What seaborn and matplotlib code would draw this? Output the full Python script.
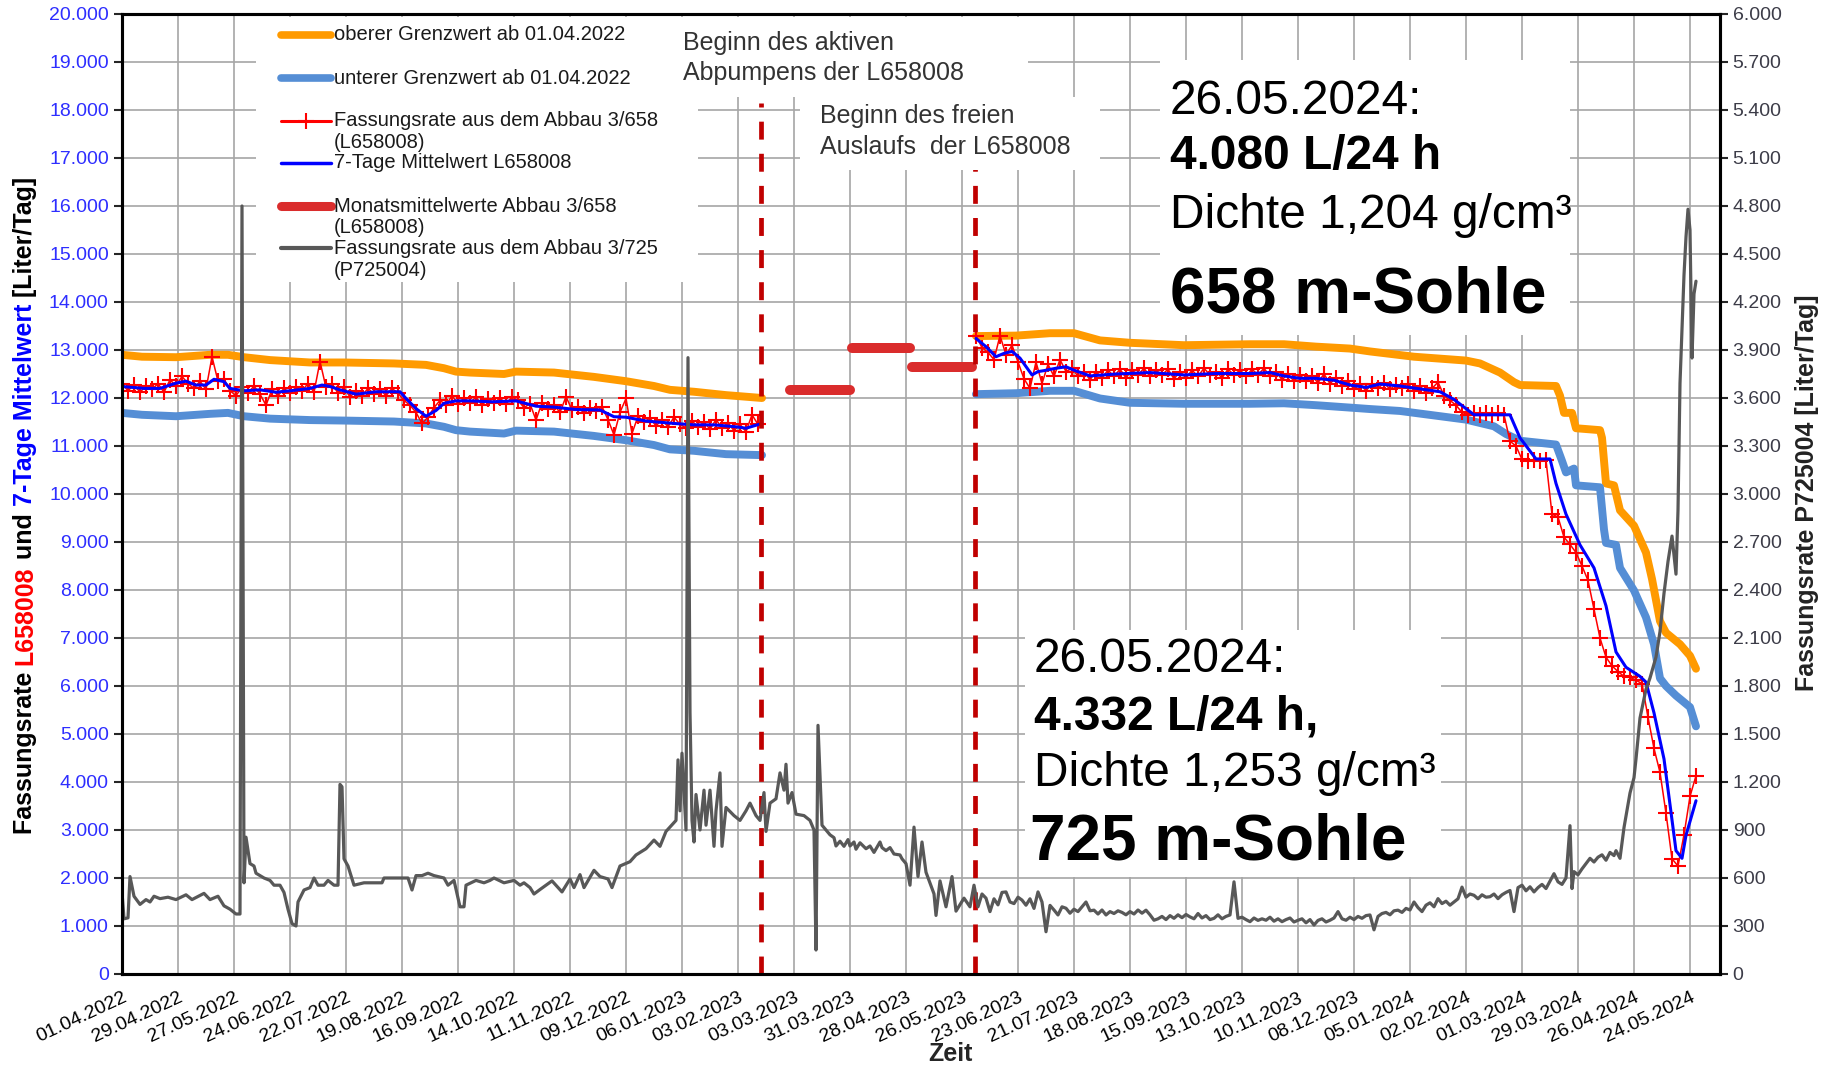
import matplotlib
matplotlib.use("Agg")
import matplotlib.pyplot as plt
from matplotlib.patches import Rectangle
from matplotlib.lines import Line2D
import pandas as pd
import seaborn as sns

START = pd.Timestamp("2022-04-01")

red_start_1 = "2022-04-01"
red_vals_1 = [12300, 12150, 12280, 12120, 12250, 12180, 12300, 12120, 12380, 12250,
              12450, 12300, 12200, 12350, 12180, 12860, 12350, 12400, 12150, 12050,
              12220, 12100, 12250, 12080, 11850, 12180, 12050, 12200, 12100, 12220,
              12150, 12300, 12120, 12760, 12220, 12300, 12100, 12220, 12020, 12150,
              12050, 12200, 12080, 12180, 12050, 12200, 12100, 11950, 11850, 11700,
              11470, 11600, 11800, 11950, 11850, 12050, 11880, 12000, 11900, 12020,
              11850, 11980, 11900, 12000, 11880, 12020, 11950, 11800, 11880, 11540,
              11900, 11780, 11850, 11700, 12030, 11750, 11820, 11680, 11800, 11720,
              11820, 11550, 11230, 11700, 11990, 11260, 11620, 11500, 11580, 11420,
              11550, 11400, 11600, 11450, 11380, 11520, 11400, 11500, 11350, 11550,
              11380, 11480, 11320, 11450, 11300, 11650, 11450]
red_start_2 = "2023-06-02"
red_vals_2 = [13300, 13050, 12950, 12800, 13300, 12900, 13100, 12750, 12400, 12200,
              12750, 12300, 12700, 12450, 12800, 12550, 12620, 12450, 12550, 12380,
              12550, 12420, 12580, 12450, 12600, 12420, 12580, 12480, 12620, 12450,
              12580, 12480, 12600, 12400, 12550, 12420, 12580, 12450, 12620, 12480,
              12550, 12420, 12600, 12480, 12580, 12450, 12600, 12480, 12620, 12450,
              12550, 12380, 12500, 12350, 12480, 12350, 12450, 12320, 12500, 12300,
              12420, 12250, 12350, 12180, 12300, 12150, 12300, 12200, 12320, 12180,
              12280, 12200, 12300, 12150, 12250, 12100, 12200, 12330, 12050, 11950,
              11850, 11700, 11650, 11680, 11650, 11680, 11650, 11680, 11650, 11100,
              11000, 10720, 10680, 10700, 10680, 10700, 9580, 9520, 9100, 8950,
              8780, 8500, 8200, 7600, 7000, 6600, 6420, 6300, 6200, 6180,
              6120, 6050, 5350, 4700, 4200, 3350, 2400, 2250, 2900, 3700,
              4130]

# 7-Tage Mittelwert L658008 (Tage seit 01.04.2022)
mean7_days_1 = [0, 11, 19, 27, 32, 37, 42, 46, 51, 54, 61, 69, 77, 84, 94, 100, 104, 109, 117, 127,
                139, 142, 147, 152, 157, 161, 167, 174, 185, 197, 207, 216, 227, 239, 246, 252, 262,
                276, 286, 296, 307, 312, 316, 320]
mean7_vals_1 = [12240, 12200, 12200, 12310, 12350, 12270, 12270, 12390, 12340, 12200, 12150, 12170,
                12120, 12150, 12200, 12270, 12240, 12170, 12080, 12130, 12130, 11990, 11780, 11620,
                11740, 11890, 11940, 11940, 11920, 11940, 11830, 11810, 11760, 11750, 11610, 11600,
                11520, 11470, 11440, 11440, 11400, 11370, 11420, 11470]
mean7_days_2 = [427, 432, 437, 441, 445, 449, 455, 458, 461, 467, 472, 476, 484, 497, 514, 531, 547,
                564, 574, 581, 589, 597, 606, 614, 622, 629, 639, 649, 659, 666, 671, 676, 694, 699,
                707, 714, 717, 722, 729, 736, 742, 747, 752, 759, 762, 766, 771, 774, 777, 780, 782, 787]
mean7_vals_2 = [13240, 13070, 12860, 12930, 12970, 12830, 12480, 12550, 12570, 12620, 12650, 12580,
                12460, 12500, 12530, 12480, 12510, 12510, 12530, 12460, 12410, 12410, 12370, 12270,
                12220, 12290, 12250, 12190, 12130, 11970, 11810, 11650, 11650, 11170, 10730, 10730,
                10220, 9580, 8940, 8460, 7670, 6710, 6390, 6200, 6080, 5440, 4480, 3530, 2570, 2410,
                2890, 3610]

# Grenzwerte ab 01.04.2022
upper_days_1 = [0, 10, 27, 44, 53, 61, 74, 94, 111, 136, 152, 161, 167, 174, 191, 197, 216, 236,
                252, 266, 274, 286, 302, 320]
upper_vals_1 = [12900, 12860, 12850, 12900, 12900, 12850, 12790, 12740, 12740, 12720, 12690, 12620,
                12550, 12530, 12500, 12550, 12530, 12440, 12350, 12250, 12170, 12130, 12060, 12000]
lower_vals_1 = [11690, 11650, 11620, 11670, 11690, 11620, 11570, 11540, 11530, 11510, 11470, 11400,
                11330, 11300, 11260, 11320, 11300, 11210, 11120, 11020, 10930, 10900, 10830, 10810]
upper_days_2 = [427, 447, 464, 476, 489, 504, 531, 564, 581, 597, 614, 624, 646, 672, 679, 689, 696,
                699, 717, 719, 721, 725, 727, 739, 740, 742, 746, 749, 756, 762, 765, 769, 772, 779,
                784, 787]
upper_vals_2 = [13290, 13300, 13350, 13350, 13200, 13150, 13100, 13120, 13120, 13070, 13030, 12970,
                12860, 12780, 12720, 12530, 12330, 12270, 12250, 12050, 11690, 11690, 11370, 11330,
                11170, 10220, 10180, 9660, 9340, 8780, 8230, 7350, 7110, 6870, 6630, 6360]
lower_days_2 = [427, 447, 464, 476, 489, 504, 531, 564, 581, 597, 614, 624, 639, 672, 686, 692, 699,
                717, 720, 722, 726, 727, 739, 741, 742, 747, 749, 756, 762, 766, 769, 772, 777, 784, 787]
lower_vals_2 = [12080, 12100, 12150, 12150, 11990, 11900, 11880, 11880, 11890, 11850, 11800, 11770,
                11730, 11550, 11410, 11250, 11110, 11030, 10690, 10450, 10530, 10180, 10140, 9260,
                8980, 8940, 8460, 7990, 7430, 6870, 6160, 6000, 5800, 5560, 5160]

# Monatsmittelwerte Abbau 3/658
month_labels = ["2023-03", "2023-04", "2023-05"]
month_means = [12160, 13050, 12640]

# Fassungsrate P725004 (Liter/Tag, rechte Achse)
p725_days_a = [0, 1, 3, 4, 6, 9, 12, 14, 16, 19, 23, 27, 32, 35, 41, 44, 48, 51, 54, 57, 59, 60, 61, 62,
               64, 66, 67, 71, 74, 76, 79, 81, 83, 85, 87, 88, 91, 94, 96, 98, 101, 103, 106, 108, 109,
               110, 111, 113, 116, 121, 126, 130, 131, 139, 143, 145, 147, 150, 153, 156, 161, 163, 166,
               169, 171, 172, 177, 181, 184, 186, 191, 196, 199, 201, 204, 206, 209, 212, 215, 220, 224,
               226, 229, 231, 236, 239, 243, 245, 249, 254, 257, 262, 266, 269, 272, 277, 278, 279, 280,
               282, 283, 284, 285, 286, 287, 289, 291, 292, 294, 296, 297, 299, 300, 302, 306, 309, 312,
               314, 317, 319, 321, 322, 324, 327, 329, 331, 332, 333, 335, 337, 341, 344, 346, 347, 348,
               350, 352, 354, 356, 357, 359, 361, 363, 364, 366, 367, 369, 372, 374, 376, 379, 380, 382,
               384, 386, 389, 390, 392, 394, 396, 398, 400, 402, 406, 407, 409, 412, 415, 417, 421, 424]
p725_vals_a = [510, 345, 351, 609, 486, 435, 465, 450, 486, 471, 480, 465, 495, 465, 504, 465, 486, 426,
               405, 375, 375, 4800, 570, 855, 690, 675, 630, 600, 585, 555, 555, 510, 405, 315, 300, 450,
               525, 540, 600, 555, 555, 585, 555, 555, 1185, 1170, 720, 675, 555, 570, 570, 570, 600, 600,
               600, 525, 615, 615, 630, 615, 600, 555, 585, 420, 420, 555, 585, 570, 585, 600, 570, 585,
               555, 570, 540, 500, 528, 555, 582, 513, 594, 540, 621, 540, 648, 609, 594, 540, 675, 702,
               744, 783, 837, 798, 891, 960, 1338, 1020, 1380, 900, 3852, 1635, 960, 825, 1122, 900, 1149,
               930, 1149, 798, 1020, 1257, 798, 1041, 990, 960, 1020, 1068, 990, 960, 1134, 891, 1068,
               1095, 1257, 1149, 1311, 1068, 1134, 999, 990, 960, 900, 150, 1554,
               930, 900, 870, 852, 800, 830, 798, 840, 800, 825, 780, 820, 783, 800, 760, 825, 790, 771,
               790, 750, 744, 720, 690, 555, 918, 609, 825, 636, 501, 366, 582, 420, 609, 393, 474, 420]
# ab 01.06.2023 alle 2 Tage
p725_start_b = "2023-06-01"
p725_vals_b = [555, 420, 500, 474, 390, 470, 432, 510, 513, 450,
               440, 480, 462, 430, 470, 410, 513, 450, 264, 429,
               400, 369, 420, 411, 380, 405, 390, 420, 450, 395,
               399, 375, 400, 369, 390, 378, 395, 385, 370, 390,
               375, 400, 380, 399, 370, 336, 345, 360, 340, 365,
               348, 370, 352, 372, 357, 345, 378, 350, 365, 340,
               348, 370, 345, 360, 369, 576, 348, 355, 340, 327,
               350, 335, 345, 336, 355, 330, 345, 327, 340, 350,
               325, 336, 345, 320, 340, 306, 335, 345, 325, 336,
               350, 390, 345, 336, 355, 340, 360, 348, 365, 369,
               276, 360, 378, 385, 370, 395, 399, 385, 410, 400,
               450, 415, 390, 430, 445, 420, 471, 440, 455, 430,
               450, 470, 543, 480, 500, 492, 470, 495, 480, 483,
               500, 471, 495, 510, 522, 390, 540, 555, 520, 545,
               513, 540, 560, 534, 580, 627, 576, 560, 600]
p725_days_c = [724, 725, 726, 728, 730, 732, 734, 736, 738, 740, 742, 744, 746, 747, 749, 751, 754, 756,
               757, 759, 762, 764, 767, 769, 771, 773, 775, 776, 777, 778, 779, 781, 782, 783, 784, 785,
               786, 787]
p725_vals_c = [927, 534, 640, 620, 657, 690, 723, 700, 730, 745, 711, 760, 740, 771, 723, 915, 1131, 1227,
               1344, 1600, 1780, 1850, 1981, 2140, 2379, 2578, 2737, 2618, 2499, 2897, 3692, 4368, 4607,
               4780, 4650, 3850, 4250, 4330]

event_dates = ["2023-02-14 12:00", "2023-06-01 12:00"]
event_tops = [18150, 16900]

ORANGE = "#FF9A00"
LIGHTBLUE = "#558ED5"
RED = "#FF0000"
BLUE = "#0000FF"
MONTHRED = "#DA2C2C"
EVENTRED = "#C00000"
GRAY = "#585858"


def days_to_dates(days):
    return START + pd.to_timedelta(days, unit="D")


def de_fmt(v):
    return f"{int(v):,}".replace(",", ".")


sns.set_style("white")
plt.rcParams["font.family"] = ["Liberation Sans", "DejaVu Sans"]

W, H = 1822, 1065


def fx(x):
    return x / W


def fy(y):
    return 1 - y / H


fig = plt.figure(figsize=(W / 100, H / 100), dpi=100)
ax = fig.add_axes([fx(122), fy(974), (1719.5 - 122) / W, (974 - 14) / H])
ax2 = ax.twinx()

line_kw = dict(estimator=None, sort=False, legend=False)

# Grenzwerte
sns.lineplot(x=days_to_dates(upper_days_1), y=upper_vals_1, ax=ax, color=ORANGE, lw=5.7,
             solid_capstyle="round", zorder=2, **line_kw)
sns.lineplot(x=days_to_dates(upper_days_1), y=lower_vals_1, ax=ax, color=LIGHTBLUE, lw=5.7,
             solid_capstyle="round", zorder=2, **line_kw)
sns.lineplot(x=days_to_dates(upper_days_2), y=upper_vals_2, ax=ax, color=ORANGE, lw=5.7,
             solid_capstyle="round", zorder=2, **line_kw)
sns.lineplot(x=days_to_dates(lower_days_2), y=lower_vals_2, ax=ax, color=LIGHTBLUE, lw=5.7,
             solid_capstyle="round", zorder=2, **line_kw)

# Fassungsrate mit Markern
for start, vals in [(red_start_1, red_vals_1), (red_start_2, red_vals_2)]:
    dates = pd.date_range(start, periods=len(vals), freq="3D")
    sns.lineplot(x=dates, y=vals, ax=ax, color=RED, lw=1.1, marker="+", markersize=11,
                 markeredgewidth=1.5, markeredgecolor=RED, zorder=3, **line_kw)

# 7-Tage Mittel
sns.lineplot(x=days_to_dates(mean7_days_1), y=mean7_vals_1, ax=ax, color=BLUE, lw=2.2, zorder=4, **line_kw)
sns.lineplot(x=days_to_dates(mean7_days_2), y=mean7_vals_2, ax=ax, color=BLUE, lw=2.2, zorder=4, **line_kw)

# Monatsmittelwerte
for m, v in zip(month_labels, month_means):
    p = pd.Period(m, freq="M")
    sns.lineplot(x=[p.start_time, p.end_time.normalize()], y=[v, v], ax=ax, color=MONTHRED, lw=7.2,
                 solid_capstyle="round", zorder=3, **line_kw)

# Ereignislinien
for d, top in zip(event_dates, event_tops):
    ts = pd.Timestamp(d)
    ax.plot([ts, ts], [0, top], color=EVENTRED, lw=3.4, ls=(0, (3.8, 3.0)), zorder=5)

# P725004 auf rechter Achse
p725 = pd.concat([
    pd.Series(p725_vals_a, index=days_to_dates(p725_days_a)),
    pd.Series(p725_vals_b, index=pd.date_range(p725_start_b, periods=len(p725_vals_b), freq="2D")),
    pd.Series(p725_vals_c, index=days_to_dates(p725_days_c)),
])
sns.lineplot(x=p725.index, y=p725.values, ax=ax2, color=GRAY, lw=2.3, **line_kw)

# Achsen
xticks = pd.date_range(START, "2024-05-24", freq="28D")
ax.set_xlim(START, START + pd.Timedelta(days=798.75))
ax.set_ylim(0, 20000)
ax2.set_ylim(0, 6000)
ax.set_xticks(xticks)
ax.set_xticklabels([d.strftime("%d.%m.%Y") for d in xticks], rotation=25, ha="right",
                   rotation_mode="anchor", fontsize=14)
yt = list(range(0, 20001, 1000))
ax.set_yticks(yt)
ax.set_yticklabels([de_fmt(v) for v in yt], fontsize=14)
yt2 = list(range(0, 6001, 300))
ax2.set_yticks(yt2)
ax2.set_yticklabels([de_fmt(v) for v in yt2], fontsize=14)
ax.set_xlabel("")
ax.set_ylabel("")
ax2.set_ylabel("")
ax2.set_xlabel("")

ax.set_axisbelow(True)
ax.grid(True, color="#A6A6A6", lw=1.2)
ax2.grid(False)
for a in (ax, ax2):
    for s in a.spines.values():
        s.set_color("black")
        s.set_linewidth(2.2)
ax.tick_params(axis="x", length=6, width=1.5, direction="out", pad=5, colors="black")
ax.tick_params(axis="y", length=6, width=1.5, direction="out", labelcolor="#2E2EFF")
ax2.tick_params(axis="y", length=6, width=1.5, direction="out", labelcolor="#3C3C48")

# weisse Textfelder ueber dem Raster
for x0, y0, x1, y1 in [(256, 17, 698, 282), (676, 17, 1028, 97), (800, 97, 1100, 170),
                       (1160, 60, 1570, 335), (1025, 630, 1441, 877)]:
    fig.add_artist(Rectangle((fx(x0), fy(y1)), (x1 - x0) / W, (y1 - y0) / H,
                             transform=fig.transFigure, facecolor="white", edgecolor="none", zorder=1))

# Legende
legend_items = [
    (dict(color=ORANGE, lw=5.5, solid_capstyle="round"), ["oberer Grenzwert ab 01.04.2022"]),
    (dict(color=LIGHTBLUE, lw=5.5, solid_capstyle="round"), ["unterer Grenzwert ab 01.04.2022"]),
    (dict(color=RED, lw=2.2), ["Fassungsrate aus dem Abbau 3/658", "(L658008)"]),
    (dict(color=BLUE, lw=2.5), ["7-Tage Mittelwert L658008"]),
    (dict(color=MONTHRED, lw=6.5, solid_capstyle="round"), ["Monatsmittelwerte Abbau 3/658", "(L658008)"]),
    (dict(color=GRAY, lw=3.0), ["Fassungsrate aus dem Abbau 3/725", "(P725004)"]),
]
for i, ((kw, lines), yy) in enumerate(zip(legend_items, [35, 78, 121, 163, 206, 248])):
    fig.add_artist(Line2D([fx(281), fx(331)], [fy(yy), fy(yy)], transform=fig.transFigure, zorder=2, **kw))
    if i == 2:
        fig.add_artist(Line2D([fx(306)], [fy(yy)], transform=fig.transFigure, marker="+", markersize=11,
                              markeredgewidth=1.5, color=RED, zorder=2))
    for j, txt in enumerate(lines):
        fig.text(fx(334), fy(yy + 22 * j), txt, fontsize=14.5, color="#1A1A1A", ha="left", va="center", zorder=3)

# Ereignistexte
fig.text(fx(683), fy(43), "Beginn des aktiven", fontsize=18, color="#333333", va="center", zorder=3)
fig.text(fx(683), fy(73), "Abpumpens der L658008", fontsize=18, color="#333333", va="center", zorder=3)
fig.text(fx(820), fy(116), "Beginn des freien", fontsize=18, color="#333333", va="center", zorder=3)
fig.text(fx(820), fy(147), "Auslaufs  der L658008", fontsize=18, color="#333333", va="center", zorder=3)

# Kennwerte
for x, y, txt, size, weight in [
    (1170, 101, "26.05.2024:", 34.5, "normal"),
    (1170, 157, "4.080 L/24 h", 34.5, "bold"),
    (1170, 215, "Dichte 1,204 g/cm³", 34.5, "normal"),
    (1170, 296, "658 m-Sohle", 46, "bold"),
    (1034, 659, "26.05.2024:", 34.5, "normal"),
    (1034, 717, "4.332 L/24 h,", 34.5, "bold"),
    (1034, 773, "Dichte 1,253 g/cm³", 34.5, "normal"),
    (1030, 842, "725 m-Sohle", 46, "bold"),
]:
    fig.text(fx(x), fy(y), txt, fontsize=size, fontweight=weight, color="black", ha="left", va="center", zorder=3)

# Achsentitel
fig.text(fx(950), fy(1054), "Zeit", fontsize=18, fontweight="bold", ha="center", va="center")
fig.text(fx(1807), fy(493), "Fassungsrate P725004 [Liter/Tag]", fontsize=18, fontweight="bold",
         rotation=90, ha="center", va="center", color="#222222")

renderer = fig.canvas.get_renderer()


def text_len(s, size):
    t = fig.text(0, 0, s, rotation=90, fontsize=size, fontweight="bold")
    h = t.get_window_extent(renderer).height
    t.remove()
    return h


label_pieces = [("Fassungsrate ", "black"), ("L658008", RED), (" und ", "black"),
                ("7-Tage Mittelwert", BLUE), (" [Liter/Tag]", "black")]
bar_len = text_len("|", 18)
ypos = 834
for txt, col in label_pieces:
    fig.text(fx(25), fy(ypos), txt, rotation=90, fontsize=18, fontweight="bold", color=col,
             ha="center", va="bottom")
    ypos -= text_len(txt + "|", 18) - bar_len

fig.savefig("out.png", dpi=100)
